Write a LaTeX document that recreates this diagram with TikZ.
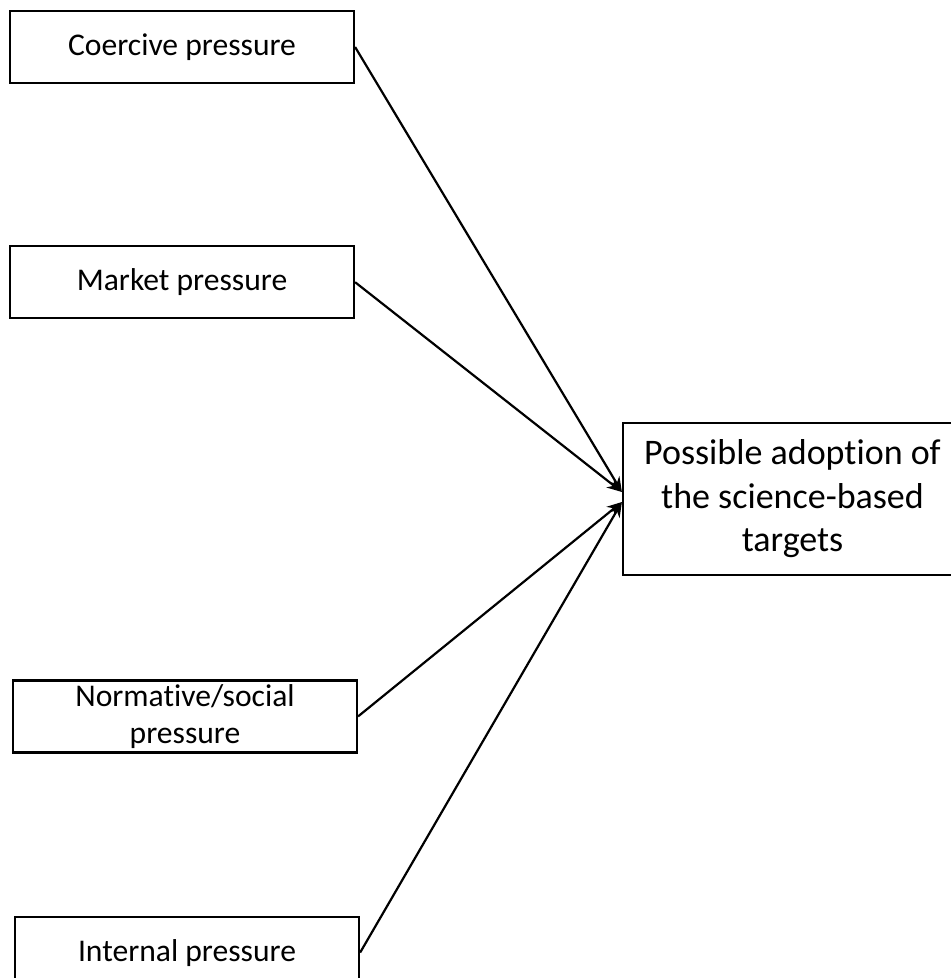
\documentclass[tikz,border=0pt]{standalone}
\usepackage{fontspec}
\setmainfont{Carlito}[Ligatures=NoCommon]
\usetikzlibrary{arrows.meta,positioning}

\begin{document}
\begin{tikzpicture}[x=0.5pt,y=-0.5pt,>={Stealth[length=7.5pt,width=6pt]},line width=1.1pt,
	pressure/.style={shape=rectangle,draw,minimum width=172pt,minimum height=36pt,
		inner sep=0pt,align=center,font=\fontsize{15.8}{18.5}\selectfont},
	outcome/.style={shape=rectangle,draw,minimum width=169.5pt,minimum height=76pt,
		inner sep=0pt,align=center,font=\fontsize{18}{21.75}\selectfont}]
	\useasboundingbox (0,0) rectangle (951,978);

	\node (coercive) [pressure] at (182,47) {Coercive pressure};
	\node (market) [pressure, below=80.5pt of coercive] {Market pressure};
	\node (normative) [pressure, below=180pt of market, xshift=1.5pt] {Normative/social\\pressure};
	\node (internal) [pressure, below=81pt of normative, xshift=1pt] {Internal pressure};

	\node (target) [outcome] at (792.5,499) {Possible adoption of\\the science-based\\targets};

	\path[->](coercive.east) edge ([yshift=3.5pt]target.west);
	\path[->](market.east) edge ([yshift=3.5pt]target.west);
	\path[->](normative.east) edge ([yshift=-1.5pt]target.west);
	\path[->](internal.east) edge ([yshift=-1.5pt]target.west);
\end{tikzpicture}
\end{document}
